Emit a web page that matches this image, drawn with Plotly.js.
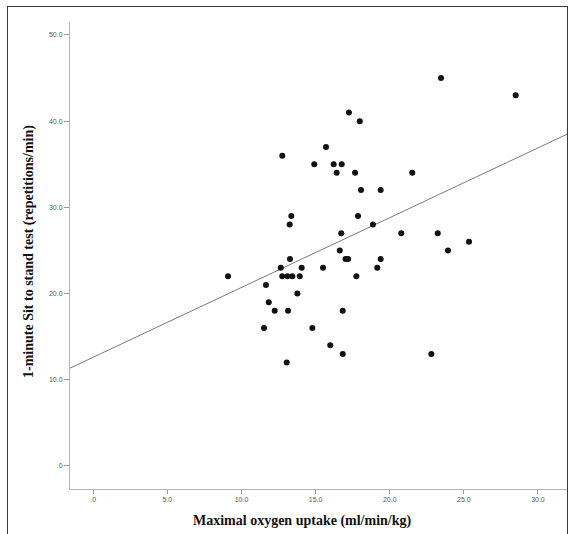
<!DOCTYPE html>
<html>
<head>
<meta charset="utf-8">
<script src="https://cdn.plot.ly/plotly-3.0.1.min.js"></script>
<style>
  html, body { margin: 0; padding: 0; background: #fff; overflow: hidden; }
  #wrap { position: relative; width: 571px; height: 534px; }
  #chart { width: 571px; height: 534px; }
  #frame { position: absolute; left: 7px; top: 6px; width: 559px; height: 560px;
           border: 1.5px solid #3a3a3a; pointer-events: none; }
</style>
</head>
<body>
<div id="wrap">
<div id="chart"></div>
<div id="frame"></div>
</div>
<script>
// Maximal oxygen uptake (ml/min/kg)
const vo2max = [
  17.25, 17.98, 15.70, 12.75, 14.91, 16.22, 16.76, 16.42, 17.66, 21.52,
  18.06, 19.39, 13.36, 17.86, 13.25, 18.87, 16.73, 20.78, 23.24, 16.63,
  13.27, 17.02, 17.19, 19.39, 12.65, 14.06, 15.50, 19.16, 9.09, 12.75,
  13.10, 13.43, 13.93, 17.75, 11.65, 13.77, 11.84, 12.24, 13.14, 16.83,
  11.52, 14.78, 15.99, 16.83, 22.81, 13.05, 28.50, 25.35, 23.93, 23.46
];
// 1-minute sit to stand test (repetitions/min)
const sitToStand = [
  41, 40, 37, 36, 35, 35, 35, 34, 34, 34,
  32, 32, 29, 29, 28, 28, 27, 27, 27, 25,
  24, 24, 24, 24, 23, 23, 23, 23, 22, 22,
  22, 22, 22, 22, 21, 20, 19, 18, 18, 18,
  16, 16, 14, 13, 13, 12, 43, 26, 25, 45
];
const xTickVals = [0, 5, 10, 15, 20, 25, 30];
const xTickText = [".0", "5.0", "10.0", "15.0", "20.0", "25.0", "30.0"];
const yTickVals = [0, 10, 20, 30, 40, 50];
const yTickText = [".0", "10.0", "20.0", "30.0", "40.0", "50.0"];
const xRange = [-1.57, 31.96];
const yRange = [-2.67, 51.5];

// least-squares fit line
function linFit(xs, ys) {
  const n = xs.length;
  let sx = 0, sy = 0, sxx = 0, sxy = 0;
  for (let i = 0; i < n; i++) { sx += xs[i]; sy += ys[i]; sxx += xs[i]*xs[i]; sxy += xs[i]*ys[i]; }
  const b = (n*sxy - sx*sy) / (n*sxx - sx*sx);
  const a = (sy - b*sx) / n;
  return {a, b};
}
const fit = linFit(vo2max, sitToStand);
const fitX = xRange.slice();
const fitY = fitX.map(x => fit.a + fit.b * x);

const traces = [
  {
    x: fitX, y: fitY, type: 'scatter', mode: 'lines',
    line: {color: '#7a7a7a', width: 1}, hoverinfo: 'skip', showlegend: false
  },
  {
    x: vo2max, y: sitToStand, type: 'scatter', mode: 'markers',
    marker: {color: '#111', size: 6}, showlegend: false
  }
];

const tickFont = {family: 'Liberation Sans, Arial, sans-serif', size: 7, color: '#555'};
const titleFont = {family: 'Liberation Serif, Times New Roman, serif', size: 14, color: '#111'};

const layout = {
  width: 571, height: 534,
  margin: {l: 70, r: 4, t: 22, b: 45},
  paper_bgcolor: '#fff', plot_bgcolor: '#fff',
  xaxis: {
    range: xRange, tickvals: xTickVals, ticktext: xTickText,
    showgrid: false, zeroline: false, showline: true, linecolor: '#b5b5b5', linewidth: 1,
    ticks: 'outside', ticklen: 4, tickcolor: '#999', tickwidth: 1,
    tickfont: tickFont
  },
  yaxis: {
    range: yRange, tickvals: yTickVals, ticktext: yTickText,
    showgrid: false, zeroline: false, showline: true, linecolor: '#b5b5b5', linewidth: 1,
    ticks: 'outside', ticklen: 5, tickcolor: '#999', tickwidth: 1,
    tickfont: tickFont
  },
  annotations: [
    {
      text: '<b>Maximal oxygen uptake (ml/min/kg)</b>', xref: 'paper', yref: 'paper',
      x: (302 - 70) / 497, y: (489 - 521) / 467, xanchor: 'center', yanchor: 'middle',
      showarrow: false, font: titleFont
    },
    {
      text: '<b>1-minute Sit to stand test (repetitions/min)</b>', xref: 'paper', yref: 'paper',
      x: (29 - 70) / 497, y: (489 - 252) / 467, xanchor: 'center', yanchor: 'middle',
      textangle: -90, showarrow: false, font: titleFont
    }
  ]
};

Plotly.newPlot('chart', traces, layout, {displayModeBar: false, staticPlot: true});
</script>
</body>
</html>
